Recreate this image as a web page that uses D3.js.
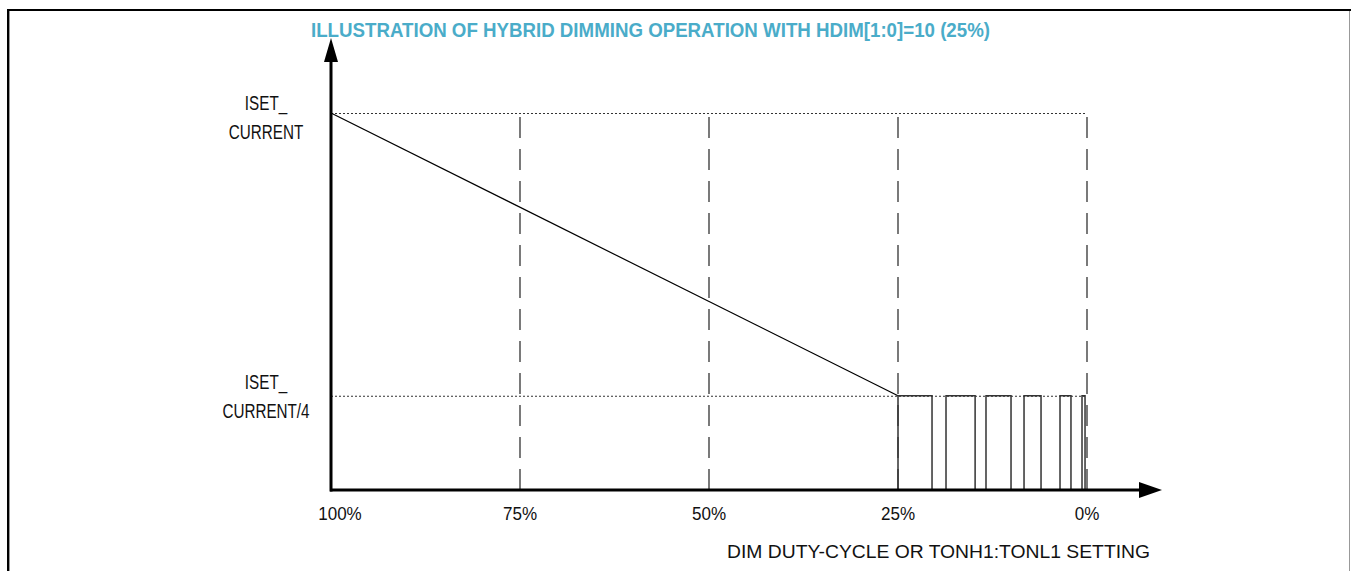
<!DOCTYPE html>
<html><head><meta charset="utf-8">
<script src="https://cdn.jsdelivr.net/npm/d3@7"></script>
<style>html,body{margin:0;padding:0;background:#fff;}svg{display:block;}</style>
</head><body>
<svg id="c" width="1351" height="571"></svg>
<script>
// ---- data ----
const title = "ILLUSTRATION OF HYBRID DIMMING OPERATION WITH HDIM[1:0]=10 (25%)";
const xTitle = "DIM DUTY-CYCLE OR TONH1:TONL1 SETTING";
const xTicks = [100, 75, 50, 25, 0];
const xTickLabels = ["100%", "75%", "50%", "25%", "0%"];
const levelValues = [1, 0.25];
const levelLabels = [["ISET_", "CURRENT"], ["ISET_", "CURRENT/4"]];
const analogLine = [[100, 1], [25, 0.25]];          // duty %, current fraction
const pulseRise = [25, 18.65, 13.36, 8.33, 3.57, 0.66];  // duty %
const pulseFall = [20.5, 14.8, 10.05, 6.08, 2.12, 0.26]; // duty %
const pulseLevel = 0.25;

// ---- drawing ----
const svg = d3.select("#c");
const W = 1351, H = 571;
const x = d3.scaleLinear().domain([100, 0]).range([331, 1087]);
const y = d3.scaleLinear().domain([0, 1]).range([490, 113]);
const font = "'Liberation Sans', Arial, sans-serif";

// frame
svg.append("line").attr("x1", 8).attr("x2", W).attr("y1", 10).attr("y2", 10).attr("stroke", "#000").attr("stroke-width", 2);
svg.append("line").attr("x1", 8).attr("x2", 8).attr("y1", 9).attr("y2", H).attr("stroke", "#000").attr("stroke-width", 2);
svg.append("line").attr("x1", 9.5).attr("x2", 9.5).attr("y1", 11).attr("y2", H).attr("stroke", "#999").attr("stroke-width", 1);
svg.append("line").attr("x1", 1349.5).attr("x2", 1349.5).attr("y1", 11).attr("y2", H).attr("stroke", "#999").attr("stroke-width", 1);

// title
svg.append("text").attr("x", 311).attr("y", 37).text(title)
  .attr("font-family", font).attr("font-weight", "bold").attr("font-size", 19.5)
  .attr("fill", "#4aacc9").attr("textLength", 679).attr("lengthAdjust", "spacingAndGlyphs");

// dotted level lines
svg.selectAll(".lvl").data(levelValues).join("line").attr("class", "lvl")
  .attr("x1", x(100)).attr("x2", x(0)).attr("y1", d => y(d) + 0.5).attr("y2", d => y(d) + 0.5)
  .attr("stroke", "#333").attr("stroke-width", 1.2).attr("stroke-dasharray", "2,2");

// dashed verticals
svg.selectAll(".vd").data(xTicks.slice(1)).join("line").attr("class", "vd")
  .attr("x1", d => x(d)).attr("x2", d => x(d)).attr("y1", y(1) + 4).attr("y2", y(0))
  .attr("stroke", "#333").attr("stroke-width", 1.3).attr("stroke-dasharray", "21,11");

// analog dimming diagonal
svg.append("path").attr("d", d3.line().x(d => x(d[0])).y(d => y(d[1]))(analogLine))
  .attr("fill", "none").attr("stroke", "#000").attr("stroke-width", 1.2);

// PWM pulses
const pulses = pulseRise.map((r, i) => [[r, 0], [r, pulseLevel], [pulseFall[i], pulseLevel], [pulseFall[i], 0]]);
svg.selectAll(".pulse").data(pulses).join("path").attr("class", "pulse")
  .attr("d", d => d3.line().x(p => x(p[0])).y(p => y(p[1]))(d))
  .attr("fill", "none").attr("stroke", "#333").attr("stroke-width", 1.5);

// axes
svg.append("line").attr("x1", 331).attr("x2", 331).attr("y1", 55).attr("y2", y(0) + 1.5).attr("stroke", "#000").attr("stroke-width", 3);
svg.append("path").attr("d", "M331,38 L324,62 L338,62 Z").attr("fill", "#000");
svg.append("line").attr("x1", 330).attr("x2", 1145).attr("y1", y(0)).attr("y2", y(0)).attr("stroke", "#000").attr("stroke-width", 3);
svg.append("path").attr("d", `M1162,${y(0)} L1139,${y(0) - 8} L1139,${y(0) + 8} Z`).attr("fill", "#000");

// x tick labels
svg.selectAll(".xt").data(xTicks).join("text").attr("class", "xt")
  .attr("x", (d, i) => x(d) + (i === 0 ? 9 : 0)).attr("y", 520)
  .attr("text-anchor", "middle").attr("font-family", font).attr("font-size", 18.5).attr("fill", "#111")
  .text((d, i) => xTickLabels[i])
  .each(function () { const w = this.getComputedTextLength(); d3.select(this).attr("textLength", w * 0.92).attr("lengthAdjust", "spacingAndGlyphs"); });

// x axis title
svg.append("text").attr("x", 727).attr("y", 558).text(xTitle)
  .attr("font-family", font).attr("font-size", 18.5).attr("fill", "#111")
  .attr("textLength", 423).attr("lengthAdjust", "spacingAndGlyphs");

// y level labels
const labelOffsets = [[-3, 26], [-7, 22]];
levelValues.forEach((v, i) => {
  [0, 1].forEach(j => {
    const t = svg.append("text").attr("text-anchor", "middle").attr("font-family", font).attr("font-size", 19.5).attr("fill", "#111")
      .attr("x", 266).attr("y", y(v) + labelOffsets[i][j]).text(levelLabels[i][j]);
    const w = t.node().getComputedTextLength();
    t.attr("textLength", w * 0.78).attr("lengthAdjust", "spacingAndGlyphs");
  });
});
</script>
</body></html>
